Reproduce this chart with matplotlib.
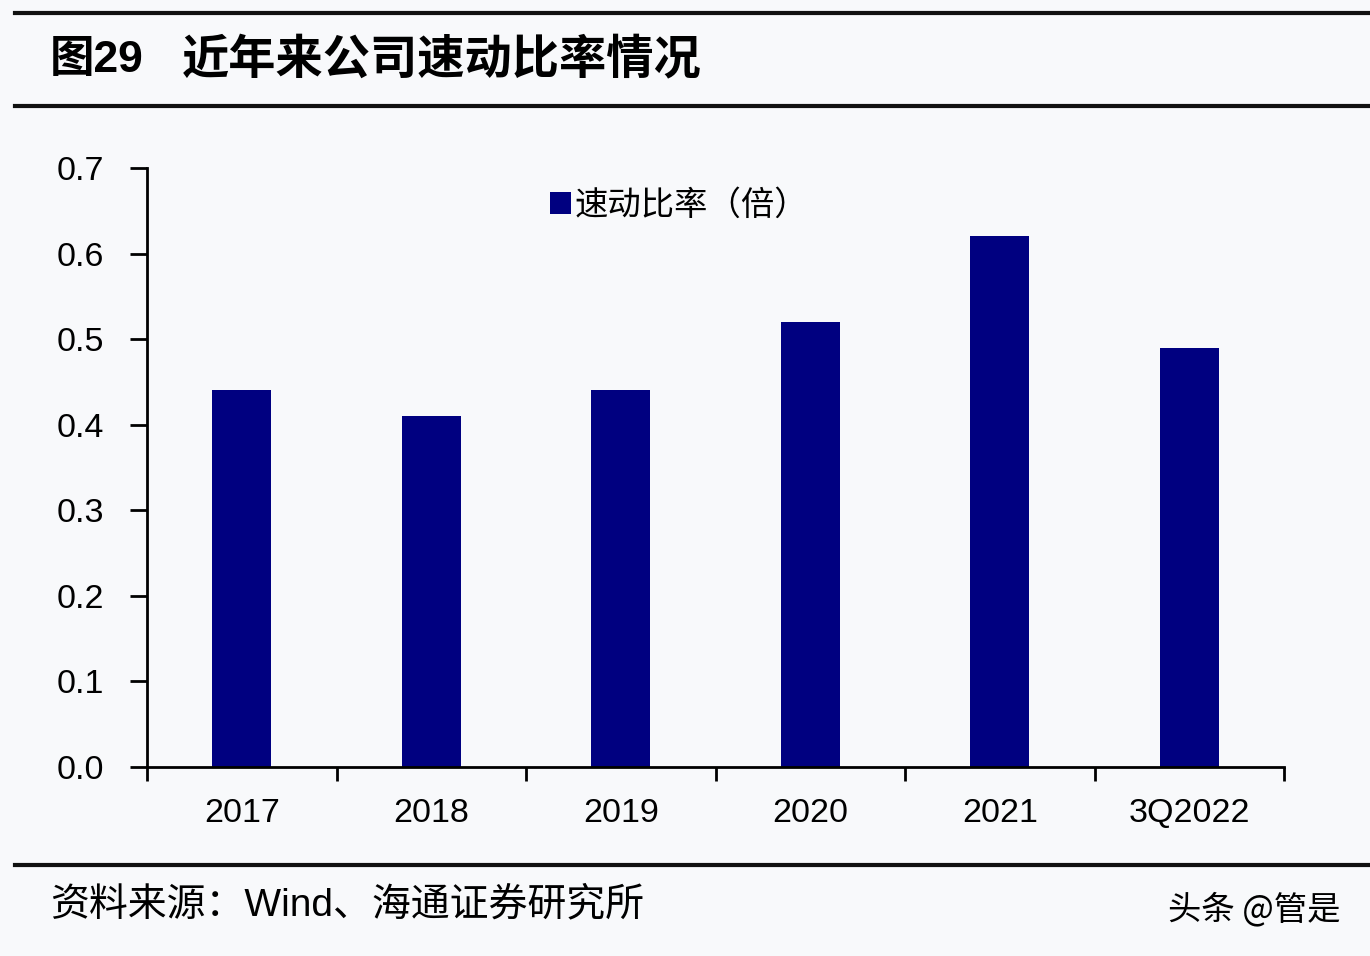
import matplotlib
matplotlib.use("Agg")
import matplotlib.pyplot as plt
from matplotlib.lines import Line2D

plt.rcParams['font.family'] = ['Liberation Sans', 'Noto Sans CJK SC', 'DejaVu Sans']

categories = ["2017", "2018", "2019", "2020", "2021", "3Q2022"]
values = [0.44, 0.41, 0.44, 0.52, 0.62, 0.49]
series_name = "速动比率（倍）"
title_num = "图29"
title_text = "近年来公司速动比率情况"
source_text = "资料来源：Wind、海通证券研究所"
watermark = "头条 @管是"
yticks = [0.0, 0.1, 0.2, 0.3, 0.4, 0.5, 0.6, 0.7]

bg = "#f8f9fb"
bar_color = "#000080"

fig = plt.figure(figsize=(13.7, 9.56), dpi=100, facecolor=bg)
ax = fig.add_axes([147/1370, 1-767/956, (1284-147)/1370, (767-168)/956], facecolor=bg)

x = list(range(len(categories)))
ax.bar(x, values, width=0.31, color=bar_color, label=series_name, zorder=2)

ax.set_xlim(-0.5, len(categories) - 0.5)
ax.set_ylim(0, 0.7)
ax.set_yticks(yticks)
ax.set_yticklabels([f"{v:.1f}" for v in yticks], fontsize=24.5)
ax.tick_params(axis='y', direction='out', length=12, width=2, pad=19)

# x ticks at category boundaries, labels at centers
ax.set_xticks([i - 0.5 for i in range(len(categories) + 1)])
ax.set_xticklabels([])
ax.set_xticks(x, minor=True)
ax.set_xticklabels(categories, minor=True, fontsize=24.5)
ax.tick_params(axis='x', which='major', direction='out', length=10, width=2)
ax.tick_params(axis='x', which='minor', length=0, pad=22)

for s in ['top', 'right']:
    ax.spines[s].set_visible(False)
for s in ['left', 'bottom']:
    ax.spines[s].set_linewidth(2)
    ax.spines[s].set_color('black')

leg = ax.legend(loc='center', bbox_to_anchor=(0.468, 1-(205-168)/599), frameon=False,
                prop={'family': ['Noto Sans CJK SC'], 'size': 24},
                handlelength=0.65, handleheight=0.65, handletextpad=0.1)

# decorative lines
fig.add_artist(Line2D([15/1370, 1], [1-13/956, 1-13/956], color='#111111', lw=3))
fig.add_artist(Line2D([15/1370, 1], [1-106/956, 1-106/956], color='#111111', lw=3))
fig.add_artist(Line2D([15/1370, 1], [1-865/956, 1-865/956], color='#111111', lw=3))

fig.text(50/1370, 1-60/956, title_num, fontsize=32, fontweight='bold', va='center', ha='left',
         family=['Liberation Sans', 'Noto Sans CJK SC'])
fig.text(182/1370, 1-60/956, title_text, fontsize=34, fontweight='bold', va='center', ha='left',
         family=['Noto Sans CJK SC'])
fig.text(50/1370, 1-905/956, source_text, fontsize=28, va='center', ha='left',
         family=['Liberation Sans', 'Noto Sans CJK SC'])
fig.text(1340/1370, 1-910/956, watermark, fontsize=24, va='center', ha='right',
         family=['Noto Sans CJK SC'])

fig.savefig("out.png", dpi=100, facecolor=bg)
